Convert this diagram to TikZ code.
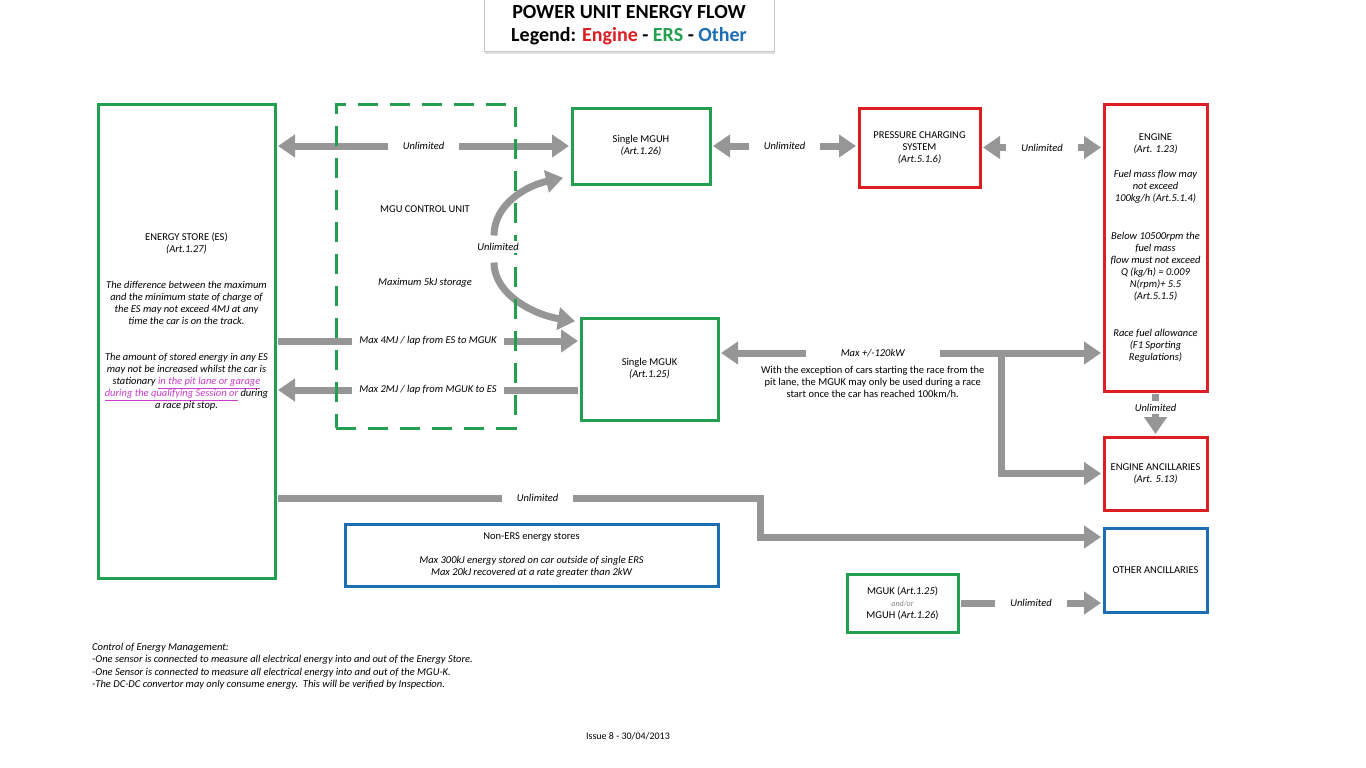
\documentclass[tikz,border=0pt]{standalone}
\usepackage{fontspec}
\setmainfont{Carlito}
\usetikzlibrary{arrows.meta,positioning,shadows}
\definecolor{ersgreen}{RGB}{34,160,80}
\definecolor{enginered}{RGB}{220,30,35}
\definecolor{otherblue}{RGB}{30,110,180}
\definecolor{flowgray}{RGB}{150,150,150}
\definecolor{notepink}{RGB}{205,60,205}
\newcommand{\pinkline}[1]{\textcolor{notepink}{\underline{#1}}}
\tikzset{
  txt/.style={font=\fontsize{10.5}{12}\selectfont, align=center, inner sep=1pt},
  itxt/.style={txt, font=\fontsize{10.5}{12}\selectfont\itshape},
  box/.style={itxt, draw, line width=3pt, fill=white, inner sep=0pt},
  ersbox/.style={box, draw=ersgreen},
  engbox/.style={box, draw=enginered},
  othbox/.style={box, draw=otherblue},
  flow/.style={draw=flowgray, line width=7pt, shorten >=1.5pt, shorten <=1.5pt,
    >={Triangle[width=22pt,length=17pt]}},
  flowlbl/.style={itxt, fill=white, inner xsep=#1, inner ysep=3pt},
  flowlbl/.default=15pt,
}
\begin{document}
\begin{tikzpicture}[x=1pt,y=-1pt]
\useasboundingbox (0,0) rectangle (1366,768);

% title
\node[draw=gray!45, line width=1pt, fill=white,
  drop shadow={opacity=0.25,shadow xshift=1pt,shadow yshift=-2pt},
  minimum width=290pt, minimum height=54pt, align=center,
  font=\bfseries\fontsize{20}{23}\selectfont] (title) at (629,25)
  {POWER UNIT ENERGY FLOW\\Legend: \textcolor{enginered}{Engine} - \textcolor{ersgreen}{ERS} - \textcolor{otherblue}{Other}};

% boxes
\node[ersbox, minimum width=177pt, minimum height=474pt] (ES) at (186.5,341) {};
\node[itxt] (EStext) at ([yshift=19pt]ES.center)
  {\textup{ENERGY STORE (ES)}\\(Art.1.27)\\[24pt]
   The difference between the maximum\\and the minimum state of charge of\\
   the ES may not exceed 4MJ at any\\time the car is on the track.\\[24pt]
   The amount of stored energy in any ES\\may not be increased whilst the car is\\
   stationary \pinkline{in the pit lane or garage}\\
   \pinkline{during the qualifying Session or} during\\a race pit stop.};
\node[ersbox, minimum width=138pt, minimum height=76pt] (MGUH) at (641,146)
  {\textup{Single MGUH}\\(Art.1.26)};
\node[engbox, minimum width=121pt, minimum height=79pt] (PCS) at (919.5,147.5)
  {\textup{PRESSURE CHARGING}\\\textup{SYSTEM}\\(Art.5.1.6)};
\node[engbox, minimum width=103pt, minimum height=287pt] (ENG) at (1155.5,247.5)
  {\textup{ENGINE}\\(Art. 1.23)\\[13pt]
   Fuel mass flow may\\not exceed\\100kg/h (Art.5.1.4)\\[26pt]
   Below 10500rpm the\\fuel mass\\flow must not exceed\\Q (kg/h) = 0.009\\N(rpm)+ 5.5\\(Art.5.1.5)\\[25pt]
   Race fuel allowance\\(F1 Sporting\\Regulations)};
\node[ersbox, minimum width=137pt, minimum height=102pt] (MGUK) at (649.5,369)
  {\textup{Single MGUK}\\(Art.1.25)};
\node[engbox, minimum width=103pt, minimum height=73pt] (EANC) at (1155.5,473.5)
  {\textup{ENGINE ANCILLARIES}\\(Art. 5.13)};
\node[othbox, minimum width=373pt, minimum height=62pt] (NERS) at (531.5,555)
  {\textup{Non-ERS energy stores}\\[12pt]
   Max 300kJ energy stored on car outside of single ERS\\
   Max 20kJ recovered at a rate greater than 2kW};
\node[othbox, minimum width=103pt, minimum height=84pt] (OTH) at (1155.5,570)
  {\textup{OTHER ANCILLARIES}};
\node[ersbox, minimum width=111pt, minimum height=58pt] (MGUX) at (902.5,603)
  {\textup{MGUK (}Art.1.25\textup{)}\\{\color{gray}\fontsize{8}{12}\selectfont and/or}\\\textup{MGUH (}Art.1.26\textup{)}};

% flows
\draw[flow,<->] (ES.east |- MGUH.west) -- node[flowlbl] {Unlimited} (MGUH.west);
\draw[flow,<->] (MGUH.east) -- node[flowlbl] {Unlimited} (PCS.west |- MGUH.east);
\draw[flow,<->] (PCS.east) -- node[flowlbl] {Unlimited} (ENG.west |- PCS.east);
\coordinate (cvmid) at (498,247);
\draw[flow,->] ([xshift=-4pt,yshift=10pt]cvmid) .. controls (494,205) and (525,186) .. ([xshift=-6pt,yshift=8pt]MGUH.south west);
\draw[flow,->] ([xshift=-4pt,yshift=-14pt]cvmid) .. controls (494,295) and (535,315) .. ([xshift=-3pt,yshift=-5pt]MGUK.north west);
\draw[flow,->] (ES.east) -- node[flowlbl=7pt] {Max 4MJ / lap from ES to MGUK} (MGUK.west |- ES.east);
\coordinate (klow) at ([yshift=-21pt]MGUK.west);
\draw[flow,->] (klow) -- node[flowlbl=7pt] {Max 2MJ / lap from MGUK to ES} (ES.east |- klow);
\coordinate (kline) at ([yshift=16pt]MGUK.east);
\draw[flow,<->] (kline) -- node[flowlbl=35pt, pos=0.4] (kmax) {Max +/-120kW} (ENG.west |- kline);
\node[txt, below=2pt of kmax] (knote)
  {With the exception of cars starting the race from the\\
   pit lane, the MGUK may only be used during a race\\
   start once the car has reached 100km/h.};
\coordinate (ksplit) at ([xshift=282pt]kline);
\draw[flow,->] (ksplit) |- (EANC.west);
\draw[flow,->] (ENG.south) -- node[flowlbl=2pt, pos=0.35] {Unlimited} (EANC.north);
\coordinate (obend) at (760,498);
\draw[flow,->] ([yshift=-157pt]ES.east) -- node[flowlbl, pos=0.54] {Unlimited} (obend) |- ([yshift=33pt]OTH.west);
\draw[flow,->] (MGUX.east) -- node[flowlbl] {Unlimited} (OTH.west |- MGUX.east);

% control unit
\node[draw=ersgreen, line width=3pt, dash pattern=on 20pt off 12pt,
  minimum width=179pt, minimum height=324pt] (MCU) at (425.5,266) {};
\node[txt] (mcuname) at (425,209) {MGU CONTROL UNIT};
\node[itxt] (mcustore) at (425,283) {Maximum 5kJ storage};
\node[itxt, fill=white, inner sep=2pt] (cvlbl) at (cvmid) {Unlimited};

% notes
\node[itxt, align=left, anchor=west, font=\fontsize{10.5}{12.5}\selectfont\itshape] (notes) at (91,666)
  {Control of Energy Management:\\
   -One sensor is connected to measure all electrical energy into and out of the Energy Store.\\
   -One Sensor is connected to measure all electrical energy into and out of the MGU-K.\\
   -The DC-DC convertor may only consume energy.\ \ This will be verified by Inspection.};
\node[txt, font=\fontsize{10}{12}\selectfont] (issue) at (628,736) {Issue 8 - 30/04/2013};
\end{tikzpicture}
\end{document}
